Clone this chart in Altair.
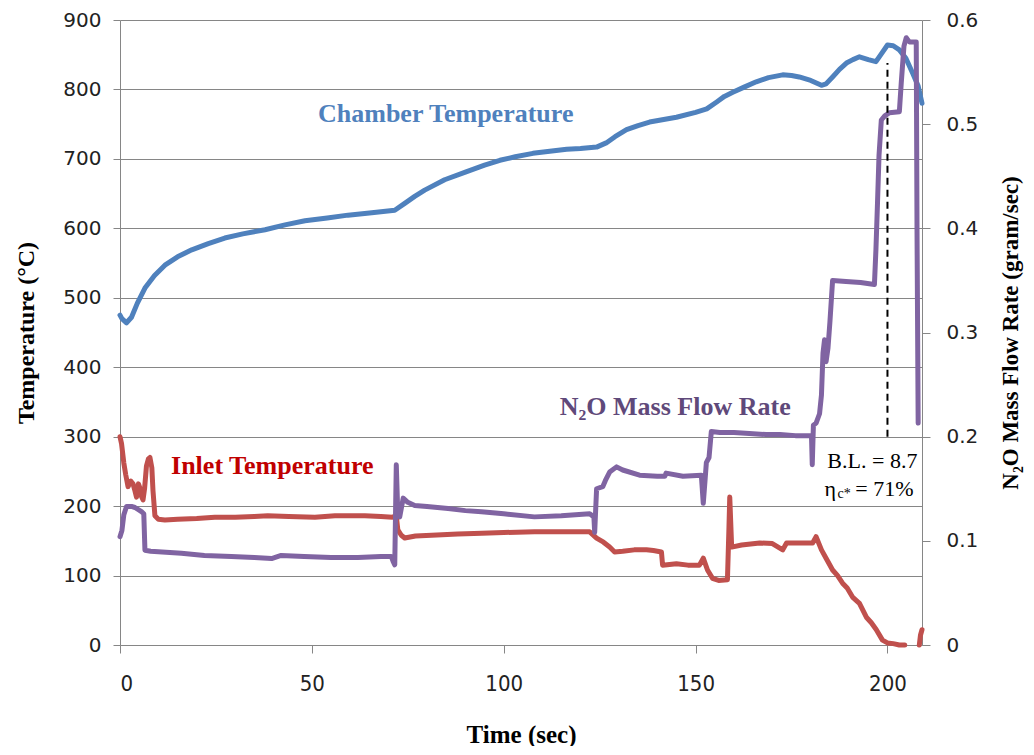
import altair as alt
import pandas as pd

# ---------------- data ----------------
chamber_time = [0.0, 0.5, 1.7, 3.0, 4.5, 6.5, 9.0, 11.7, 15.0, 18.7, 23.0, 27.3, 32.0, 37.8,
                43.0, 48.2, 54.0, 59.4, 65.0, 71.6, 74.2, 76.8, 79.4, 84.6, 90.0, 95.0, 99.0,
                103.0, 107.6, 112.0, 116.4, 120.0, 124.2, 126.7, 129.0, 132.0, 135.0, 138.0,
                145.0, 150.0, 152.9, 155.5, 157.5, 159.7, 162.5, 165.8, 169.0, 172.7, 175.0,
                177.0, 180.0, 182.8, 184.0, 185.7, 187.5, 189.3, 191.0, 192.7, 195.0, 197.0,
                198.5, 200.0, 201.5, 203.1, 204.8, 206.6, 208.0, 209.0]
chamber_temp = [475, 470, 464, 472, 492, 514, 532, 547, 559, 569, 578, 586, 592, 598,
                605, 611, 615, 619, 622, 626, 636, 646, 655, 670, 681, 691, 698,
                703, 708, 711, 714, 715, 717, 723, 732, 742, 748, 753,
                760, 767, 772, 782, 790, 796, 803, 811, 817, 821, 820,
                818, 813, 806, 808, 818, 829, 838, 843, 847, 843, 840,
                852, 864, 863, 857, 845, 823, 805, 780]

inlet_time = [0.0, 0.4, 1.0, 1.5, 2.1, 2.8, 3.4, 3.9, 4.3, 4.8, 5.2, 5.6, 6.0, 6.4, 6.9, 7.4,
              7.8, 8.3, 8.6, 9.1, 10.0, 11.7, 15.0, 20.0, 24.7, 30.0, 35.0, 38.5, 44.0, 50.8,
              56.0, 63.8, 68.0, 71.0, 72.0, 72.4, 73.3, 74.2, 77.0, 81.2, 88.0, 94.3, 100.0,
              108.0, 115.0, 122.4, 124.2, 126.0, 127.6, 128.9, 131.0, 134.0, 137.2, 139.0,
              141.1, 141.4, 145.0, 148.0, 151.0, 152.0, 153.1, 154.4, 156.0, 158.3, 158.7,
              158.9, 159.4, 162.0, 166.7, 170.0, 172.7, 173.7, 177.0, 180.5, 181.4, 182.8,
              184.0, 185.7, 187.0, 188.3, 189.5, 190.9, 192.7, 194.5, 195.8, 197.1, 198.7,
              200.0, 201.5, 203.1, 204.5]
inlet_temp = [300, 290, 262, 245, 228, 236, 232, 222, 213, 232, 226, 214, 209, 225, 258, 268,
              270, 255, 222, 186, 181, 180, 181, 182, 184, 184, 185, 186, 185, 184,
              186, 186, 185, 184, 186, 166, 158, 154, 157, 158, 160, 161, 162,
              163, 163, 163, 154, 148, 141, 134, 135, 137, 137, 136,
              134, 115, 117, 115, 115, 125, 108, 96, 93, 94, 170,
              213, 141, 144, 147, 146, 137, 147, 147, 147, 156, 137,
              125, 108, 100, 89, 82, 69, 60, 40, 32, 22, 7,
              3, 2, 0, 0]
inlet_tail_time = [208.3, 208.6, 209.0]
inlet_tail_temp = [0, 14, 22]

flow_time = [0.0, 0.5, 1.0, 1.7, 3.0, 3.9, 5.6, 6.2, 6.5, 8.0, 12.0, 16.0, 22.0, 29.0, 35.0,
             39.5, 42.0, 48.0, 55.0, 62.0, 68.0, 70.7, 71.2, 71.6, 72.0, 72.4, 72.9, 73.8,
             75.0, 76.8, 80.0, 85.5, 90.0, 94.2, 100.0, 108.0, 115.0, 122.4, 123.5, 123.7,
             124.2, 125.8, 126.5, 127.6, 129.4, 131.0, 135.4, 140.0, 142.0, 142.3, 146.7,
             151.5, 152.0, 152.5, 152.8, 153.5, 154.1, 156.3, 160.0, 164.0, 168.4, 172.0,
             176.0, 180.2, 180.4, 180.7, 181.4, 182.3, 182.8, 183.2, 183.6, 184.0, 184.5,
             185.0, 185.7, 189.2, 193.0, 196.6, 197.0, 197.4, 197.8, 198.4, 199.3, 200.5,
             203.1, 203.6, 204.3, 204.9, 205.7, 207.5, 207.7, 208.0]
flow_rate = [0.104, 0.110, 0.125, 0.133, 0.133, 0.132, 0.128, 0.126, 0.091, 0.090, 0.089,
             0.088, 0.086, 0.085, 0.084, 0.083, 0.086, 0.085, 0.084, 0.084, 0.085, 0.085,
             0.080, 0.077, 0.173, 0.125, 0.123, 0.141, 0.137, 0.134, 0.133, 0.131, 0.129,
             0.128, 0.126, 0.123, 0.124, 0.126, 0.123, 0.108, 0.150, 0.152, 0.158, 0.166,
             0.171, 0.168, 0.163, 0.162, 0.162, 0.165, 0.162, 0.163, 0.136, 0.160, 0.175,
             0.180, 0.205, 0.204, 0.204, 0.203, 0.202, 0.202, 0.201, 0.201, 0.173, 0.211,
             0.213, 0.222, 0.240, 0.280, 0.293, 0.272, 0.285, 0.310, 0.350, 0.349, 0.348,
             0.346, 0.380, 0.424, 0.470, 0.504, 0.508, 0.511, 0.512, 0.540, 0.575, 0.583,
             0.579, 0.579, 0.400, 0.213]

x_ticks = [0, 50, 100, 150, 200]
temp_ticks = [0, 100, 200, 300, 400, 500, 600, 700, 800, 900]
flow_ticks = [0, 0.1, 0.2, 0.3, 0.4, 0.5, 0.6]

series_names = ["Chamber Temperature", "Inlet Temperature"]
series_colors = ["#4F81BD", "#C0504D"]
flow_color = "#8064A2"

# series labels on the plot (time, temperature position of the text)
label_text = ["Chamber Temperature", "Inlet Temperature", "N\u2082O Mass Flow Rate"]
label_colors = ["#4F81BD", "#C00000", "#5F497A"]
label_time = [51.6, 13.3, 114.6]
label_temp = [753, 246, 331]

# burn-out marker
marker_time = [200]
marker_temp = [300]
marker_temp2 = [838]

# B.L. / efficiency note
note_time = [207.8, 183.6, 187.0, 206.8]
note_temp = [255, 214.6, 211.0, 214.6]
note_text = ["B.L. = 8.7", "\u03b7", "c*", "= 71%"]

# ---------------- tables ----------------
temp_df = pd.DataFrame({
    "time": chamber_time + inlet_time + inlet_tail_time,
    "temp": chamber_temp + inlet_temp + inlet_tail_temp,
    "series": [series_names[0]] * len(chamber_time) + [series_names[1]] * (len(inlet_time) + len(inlet_tail_time)),
    "seg": ["a"] * len(chamber_time) + ["b"] * len(inlet_time) + ["c"] * len(inlet_tail_time),
})
flow_df = pd.DataFrame({"time": flow_time, "flow": flow_rate})
marker_df = pd.DataFrame({"time": marker_time, "temp": marker_temp, "temp2": marker_temp2})

SERIF = "Liberation Serif"
SANS = "DejaVu Sans"

x_scale = alt.Scale(domain=[0, 209], nice=False, zero=False)
t_scale = alt.Scale(domain=[0, 900], nice=False)

x_axis = alt.Axis(values=x_ticks, title="Time (sec)", grid=False, tickSize=8,
                  labelFont="DejaVu Sans Condensed, Open Sans, sans-serif",
                  labelFontSize=22, labelPadding=20,
                  titleFont=SERIF, titleFontWeight="bold", titleFontSize=25,
                  titlePadding=28)
x_enc = alt.X("time:Q", scale=x_scale, axis=x_axis)

temp_lines = alt.Chart(temp_df).mark_line(strokeWidth=5, strokeCap="round", strokeJoin="round").encode(
    x=x_enc,
    y=alt.Y("temp:Q", scale=t_scale,
            axis=alt.Axis(values=temp_ticks, grid=True, title="Temperature (\u00b0C)", tickSize=7,
                          labelFont=SANS, labelFontSize=20, labelPadding=12,
                          titleFont=SERIF, titleFontWeight="bold", titleFontSize=24,
                          titlePadding=24)),
    color=alt.Color("series:N", scale=alt.Scale(domain=series_names, range=series_colors), legend=None),
    detail="seg:N",
)

flow_line = alt.Chart(flow_df).mark_line(strokeWidth=5, strokeCap="round", strokeJoin="round",
                                         color=flow_color).encode(
    x=x_enc,
    y=alt.Y("flow:Q", scale=alt.Scale(domain=[0, 0.6], nice=False),
            axis=alt.Axis(orient="right", values=flow_ticks, format=".1~f", grid=False,
                          title="N\u2082O Mass Flow Rate (gram/sec)", tickSize=8,
                          labelFont=SANS, labelFontSize=20, labelPadding=16,
                          titleFont=SERIF, titleFontWeight="bold", titleFontSize=23,
                          titleAngle=270, titleBaseline="top", titlePadding=22)),
)

marker = alt.Chart(marker_df).mark_rule(color="black", strokeWidth=2, strokeDash=[7, 5]).encode(
    x=x_enc,
    y=alt.Y("temp:Q", scale=t_scale, axis=None),
    y2="temp2:Q",
)

label_layers = []
for txt, col, tt, tv in zip(label_text, label_colors, label_time, label_temp):
    df = pd.DataFrame({"time": [tt], "temp": [tv], "label": [txt]})
    label_layers.append(
        alt.Chart(df).mark_text(font=SERIF, fontWeight="bold", fontSize=26, color=col,
                                align="left", baseline="alphabetic").encode(
            x=x_enc, y=alt.Y("temp:Q", scale=t_scale, axis=None), text="label:N")
    )

note_styles = [("right", 22), ("left", 22), ("left", 14), ("right", 22)]
note_layers = []
for txt, tt, tv, (al, fs) in zip(note_text, note_time, note_temp, note_styles):
    df = pd.DataFrame({"time": [tt], "temp": [tv], "label": [txt]})
    note_layers.append(
        alt.Chart(df).mark_text(font=SERIF, fontSize=fs, color="black", align=al,
                                baseline="alphabetic").encode(
            x=x_enc, y=alt.Y("temp:Q", scale=t_scale, axis=None), text="label:N")
    )

chart = alt.layer(temp_lines, flow_line, marker, *label_layers, *note_layers).resolve_scale(
    y="independent"
).properties(
    width=802, height=625,
    autosize=alt.AutoSizeParams(type="none"),
    padding={"left": 112, "top": 12, "right": 104, "bottom": 101},
    background="white",
).configure_view(stroke=None).configure_axis(
    domainColor="#868686", tickColor="#868686", gridColor="#868686", gridWidth=1,
    domainWidth=1, tickWidth=1, labelColor="#222222", titleColor="black",
)

chart.save("out.html", embed_options={"renderer": "svg", "actions": False})
